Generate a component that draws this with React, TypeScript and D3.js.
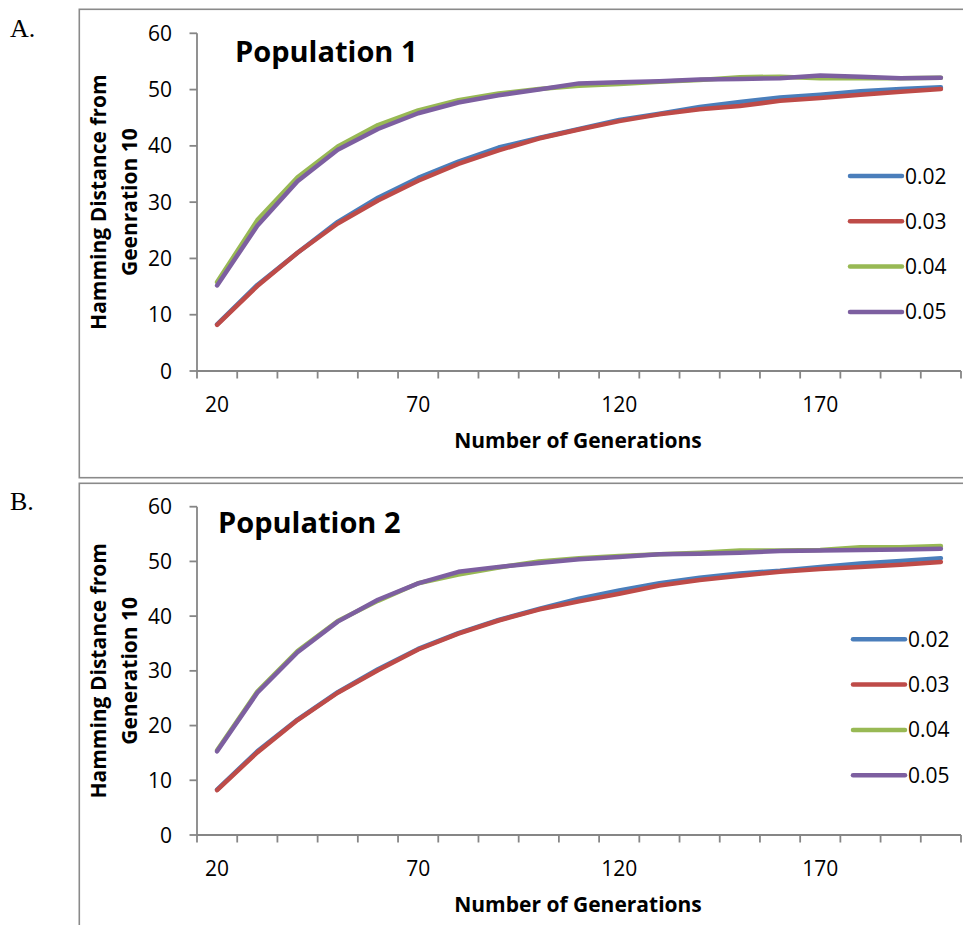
import React from 'react';
import { scaleBand, scaleLinear, line, curveLinear } from 'd3';

// generations on the category axis
const generations = [20, 30, 40, 50, 60, 70, 80, 90, 100, 110, 120, 130, 140, 150, 160, 170, 180, 190, 200];
const xTickLabels = [20, 70, 120, 170];
const yTicks = [0, 10, 20, 30, 40, 50, 60];
const seriesNames = ['0.02', '0.03', '0.04', '0.05'];
const seriesColors = ['#4a7ebb', '#be4b48', '#98b954', '#7d5fa0'];

// Population 1
const pop1_002 = [8.3, 15.3, 21.0, 26.5, 30.8, 34.3, 37.2, 39.7, 41.4, 43.0, 44.6, 45.7, 46.9, 47.8, 48.6, 49.1, 49.7, 50.1, 50.4];
const pop1_003 = [8.2, 15.1, 21.0, 26.2, 30.3, 33.8, 36.8, 39.2, 41.3, 42.9, 44.4, 45.6, 46.5, 47.1, 48.0, 48.5, 49.1, 49.6, 50.1];
const pop1_004 = [15.8, 26.8, 34.4, 39.9, 43.7, 46.3, 48.1, 49.3, 50.1, 50.7, 51.0, 51.4, 51.7, 52.2, 52.3, 52.0, 52.0, 52.0, 52.1];
const pop1_005 = [15.2, 25.8, 33.7, 39.3, 43.0, 45.8, 47.7, 49.0, 50.0, 51.1, 51.3, 51.5, 51.8, 51.9, 52.0, 52.5, 52.3, 52.0, 52.1];

// Population 2
const pop2_002 = [8.3, 15.3, 21.1, 26.1, 30.3, 34.0, 36.9, 39.3, 41.3, 43.2, 44.7, 46.0, 47.0, 47.8, 48.3, 49.0, 49.6, 50.1, 50.6];
const pop2_003 = [8.2, 15.1, 21.0, 26.0, 30.1, 33.9, 36.8, 39.2, 41.2, 42.7, 44.1, 45.6, 46.6, 47.4, 48.1, 48.6, 49.0, 49.4, 49.9];
const pop2_004 = [15.5, 26.2, 33.6, 39.1, 42.8, 46.0, 47.6, 48.9, 50.0, 50.6, 51.0, 51.3, 51.6, 52.0, 52.0, 52.1, 52.6, 52.6, 52.8];
const pop2_005 = [15.3, 26.0, 33.4, 39.0, 43.0, 46.0, 48.1, 49.0, 49.7, 50.4, 50.8, 51.3, 51.4, 51.6, 51.9, 52.0, 52.1, 52.2, 52.3];

const FONT = "'Open Sans', 'Noto Sans', sans-serif";
const AXIS = '#868686';

type PanelProps = {
  title: string;
  yTitle2: string;
  series: number[][];
  top: number;
  bottom: number;
  titleX: number;
  titleY: number;
  legendX: number;
  legendY: number;
  xTitleY: number;
};

const Panel = ({ title, yTitle2, series, top, bottom, titleX, titleY, legendX, legendY, xTitleY }: PanelProps) => {
  const x = scaleBand<number>().domain(generations).range([197, 961]).padding(0);
  const y = scaleLinear().domain([0, 60]).range([bottom, top]);
  const cx = (g: number) => (x(g) as number) + x.bandwidth() / 2;

  const path = line<number>()
    .x((d, i) => cx(generations[i]))
    .y(d => y(d))
    .curve(curveLinear);

  const edges = generations.map(g => x(g) as number).concat([x.range()[1]]);
  const midY = (top + bottom) / 2;

  return (
    <g>
      {/* y axis */}
      <line x1={197} x2={197} y1={top} y2={bottom} stroke={AXIS} strokeWidth={1.8} />
      {yTicks.map(t => (
        <g key={t}>
          <line x1={189.5} x2={197} y1={y(t)} y2={y(t)} stroke={AXIS} strokeWidth={1.8} />
          <text x={172} y={y(t)} dy="0.36em" textAnchor="end" fontSize={21} fontFamily={FONT} fill="#000">{t}</text>
        </g>
      ))}
      {/* x axis */}
      <line x1={197} x2={edges[edges.length - 1]} y1={bottom} y2={bottom} stroke={AXIS} strokeWidth={1.8} />
      {edges.map((e, i) => (
        <line key={i} x1={e} x2={e} y1={bottom} y2={bottom + 7.5} stroke={AXIS} strokeWidth={1.8} />
      ))}
      {xTickLabels.map(g => (
        <text key={g} x={cx(g)} y={bottom + 41} textAnchor="middle" fontSize={21} fontFamily={FONT} fill="#000">{g}</text>
      ))}
      <text x={578} y={xTitleY} textAnchor="middle" fontSize={21} fontWeight="bold" fontFamily={FONT} fill="#000">
        Number of Generations
      </text>
      <g transform={`translate(0, ${midY}) rotate(-90)`}>
        <text x={0} y={106} textAnchor="middle" fontSize={21} fontWeight="bold" fontFamily={FONT} fill="#000">Hamming Distance from</text>
        <text x={0} y={137} textAnchor="middle" fontSize={21} fontWeight="bold" fontFamily={FONT} fill="#000">{yTitle2}</text>
      </g>
      <text x={titleX} y={titleY} fontSize={29} fontWeight="bold" fontFamily={FONT} fill="#000">{title}</text>
      {series.map((s, i) => (
        <path key={i} d={path(s) || ''} fill="none" stroke={seriesColors[i]} strokeWidth={4.5}
          strokeLinecap="round" strokeLinejoin="round" />
      ))}
      {seriesNames.map((n, i) => (
        <g key={n}>
          <line x1={legendX} x2={legendX + 52} y1={legendY + i * 45.3} y2={legendY + i * 45.3}
            stroke={seriesColors[i]} strokeWidth={4.5} strokeLinecap="round" />
          <text x={legendX + 55} y={legendY + i * 45.3} dy="0.36em" fontSize={21} fontFamily={FONT} fill="#000">{n}</text>
        </g>
      ))}
    </g>
  );
};

const App = () => {
  return (
    <svg width={963} height={925} style={{ position: 'absolute', left: 0, top: 0, background: '#fff' }}>
      <rect x={0} y={0} width={963} height={925} fill="#fff" />
      {/* panel frames */}
      <rect x={79.3} y={9.3} width={1000} height={468.4} fill="none" stroke="#8a8a8a" strokeWidth={1.6} />
      <rect x={79.3} y={483.3} width={1000} height={500} fill="none" stroke="#8a8a8a" strokeWidth={1.6} />
      <text x={10} y={37} fontSize={26} fontFamily="'Liberation Serif', 'DejaVu Serif', serif" fill="#000">A.</text>
      <text x={10} y={510} fontSize={26} fontFamily="'Liberation Serif', 'DejaVu Serif', serif" fill="#000">B.</text>
      <Panel title="Population 1" yTitle2="Geenration 10"
        series={[pop1_002, pop1_003, pop1_004, pop1_005]}
        top={33.3} bottom={371} titleX={235} titleY={62}
        legendX={850} legendY={176} xTitleY={448} />
      <Panel title="Population 2" yTitle2="Generation 10"
        series={[pop2_002, pop2_003, pop2_004, pop2_005]}
        top={506.7} bottom={835} titleX={218} titleY={533}
        legendX={853} legendY={639.3} xTitleY={912} />
    </svg>
  );
};

export default App;
